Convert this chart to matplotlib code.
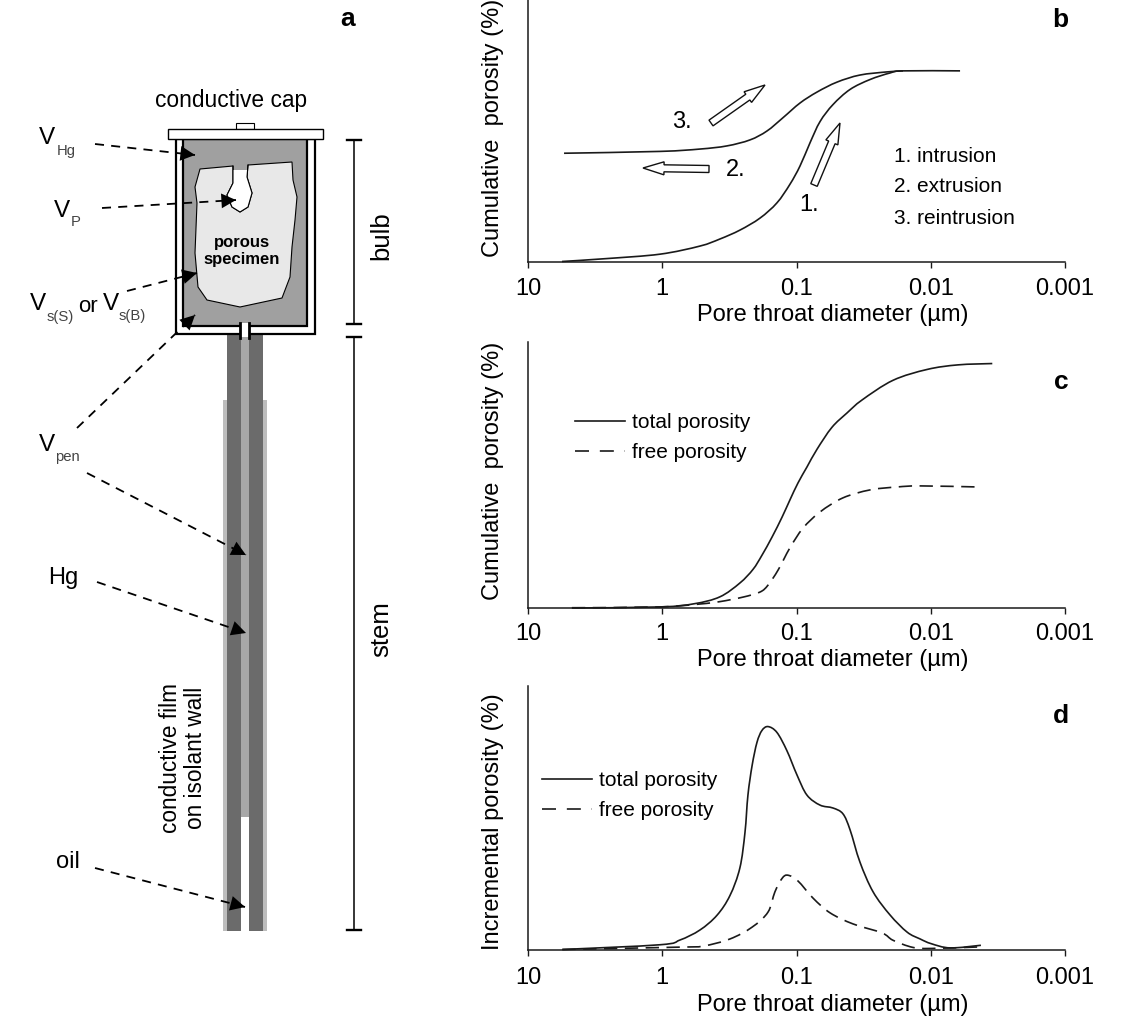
import matplotlib
matplotlib.use("Agg")
import numpy as np
import matplotlib.pyplot as plt
from matplotlib.lines import Line2D
from matplotlib.patches import Rectangle, Polygon, FancyArrow, PathPatch
from matplotlib.path import Path
from matplotlib.transforms import IdentityTransform

plt.rcParams['font.family'] = ['Liberation Sans', 'DejaVu Sans']

W, H = 1128, 1024

# ---- data: pore throat diameter (um) / porosity (% of axis height) ----
b_intr_d = [5.58, 2.62, 1.04, .524, .372, .264, .187, .140, .112, .0942, .0793, .0668, .0535, .0399, .0283, .0201, .0161, .00605]
b_intr_v = [0, 1.1, 2.8, 5.9, 8.6, 12.0, 16.6, 22.4, 29.5, 36.5, 45.4, 53.5, 60, 65.8, 69.6, 72.1, 72.9, 72.9]
b_re_d = [5.39, 1.04, .524, .330, .222, .166, .126, .0942, .0703, .0499, .0337, .0212, .0161]
b_re_v = [41.4, 42.1, 43, 44.2, 46.5, 49.9, 55, 60.6, 64.8, 68.6, 71.3, 72.5, 72.9]

c_tot_d = [4.71, 1.04, .578, .372, .264, .211, .181, .152, .128, .112, .0975, .0836, .0703, .0545, .0421, .0325, .0191, .0106, .00627, .00348]
c_tot_v = [0, .4, 1.6, 4.2, 9.4, 14.5, 19.8, 26.7, 34.2, 40.6, 47, 53, 59.7, 67.9, 73.3, 78.2, 85.6, 89.7, 91.4, 91.9]
c_free_d = [4.71, 1.04, .524, .372, .250, .187, .163, .137, .112, .0895, .0668, .0451, .0283, .0178, .0120, .00445]
c_free_v = [.1, .4, 1.5, 2.4, 4.1, 6, 8.6, 14.3, 22.6, 30, 36.1, 41.4, 44.4, 45.5, 45.9, 45.5]

d_tot_d = [5.55, 1.04, .738, .524, .391, .313, .264, .242, .230, .214, .197, .181, .163, .140, .118, .0991, .0836, .0668, .0535, .0451, .0399, .0337, .0269, .0201, .0150, .0120, .00991, .00715, .00423]
d_tot_v = [0, 1.8, 3.6, 7.4, 13, 20.5, 31, 44.4, 58.6, 69.9, 78.6, 83.1, 84.6, 82.4, 75.5, 66.2, 58.6, 54.8, 53.7, 51.5, 45.4, 33.2, 21.9, 13.1, 6.6, 4, 2.2, .6, 1.6]
d_free_d = [5.55, .738, .497, .313, .214, .163, .145, .128, .116, .0975, .0753, .0562, .0379, .0231, .0191, .0136, .00991, .00423]
d_free_v = [0, .9, 1.3, 4, 8.5, 14.2, 21.8, 27, 28.2, 26, 19.5, 13.9, 9.7, 6.3, 3.5, .8, .4, 1]

x_ticks = [10, 1, 0.1, 0.01, 0.001]
x_tick_labels = ['10', '1', '0.1', '0.01', '0.001']
x_label = 'Pore throat diameter (µm)'
legend_labels = ['total porosity', 'free porosity']

INK = '#1a1a1a'
DASH = (0, (8, 4.5))
LW = 1.2

fig = plt.figure(figsize=(W / 100, H / 100), dpi=100, facecolor='white')


def panel(top, bottom, ylabel, y_center, tick_pad, label_off):
    ax = fig.add_axes([528 / W, 1 - bottom / H, (1065 - 528) / W, (bottom - top) / H])
    ax.set_xscale('log')
    ax.set_xlim(10, 0.001)
    ax.set_ylim(0, 100)
    ax.set_xticks(x_ticks)
    ax.set_xticklabels(x_tick_labels, fontsize=17)
    ax.minorticks_off()
    ax.set_yticks([])
    ax.tick_params(axis='x', length=4, width=1, pad=tick_pad, color=INK)
    for s in ('top', 'right'):
        ax.spines[s].set_visible(False)
    for s in ('left', 'bottom'):
        ax.spines[s].set_linewidth(1.1)
        ax.spines[s].set_color(INK)
    ax.set_xlabel(x_label, fontsize=17, va='center')
    ax.xaxis.set_label_coords((832.5 - 528) / 537, -label_off / (bottom - top))
    fig.text(492.5 / W, 1 - y_center / H, ylabel, rotation=90, fontsize=17, ha='center', va='center')
    ax.patch.set_alpha(0)
    return ax


def curve(ax, xs, ys, **kw):
    """Draw the read values as a smoothed chart line: the curve passes through each value."""
    lx, y = np.log10(xs), np.asarray(ys, float)
    p = np.column_stack([lx, y])
    prev = np.vstack([p[0], p[:-1]])
    nxt = np.vstack([p[1:], p[-1]])
    c1 = p[:-1] + (nxt[:-1] - prev[:-1]) / 6
    c2 = p[1:] - (nxt[1:] - prev[1:]) / 6
    verts, codes = [p[0]], [Path.MOVETO]
    for a, b, e in zip(c1, c2, p[1:]):
        verts += [a, b, e]
        codes += [Path.CURVE4] * 3
    v = np.array(verts)
    v[:, 0] = 10 ** v[:, 0]
    ax.add_patch(PathPatch(Path(v, codes), fc='none', ec=INK, lw=LW, clip_on=False, capstyle='butt', **kw))


axb = panel(0, 261.5, 'Cumulative  porosity (%)', 127.5, 8, 54)
axc = panel(342, 608, 'Cumulative  porosity (%)', 471, 7, 52)
axd = panel(686, 949.5, 'Incremental porosity (%)', 822, 8.5, 55)

curve(axb, b_intr_d, b_intr_v)
curve(axb, b_re_d, b_re_v)
curve(axc, c_tot_d, c_tot_v)
curve(axc, c_free_d, c_free_v, ls=DASH)
curve(axd, d_tot_d, d_tot_v)
curve(axd, d_free_d, d_free_v, ls=DASH)

handles = [Line2D([], [], color=INK, lw=LW), Line2D([], [], color=INK, lw=LW, ls=(0, (8.4, 6.5)))]
for ax, anchor in ((axc, (575, 413)), (axd, (542, 771))):
    ax.legend(handles, legend_labels, loc='upper left', bbox_to_anchor=(anchor[0], H - anchor[1]),
              bbox_transform=IdentityTransform(), frameon=False,
              fontsize=15, handlelength=2.4, handletextpad=0.33, labelspacing=0.52,
              borderpad=0, borderaxespad=0)

# ---- overlay in pixel coordinates: schematic and annotations ----
ov = fig.add_axes([0, 0, 1, 1], zorder=5)
ov.set_xlim(0, W)
ov.set_ylim(H, 0)
ov.axis('off')
ov.patch.set_alpha(0)


def rect(x0, y0, x1, y1, fc, ec='none', lw=0, z=1):
    ov.add_patch(Rectangle((x0, y0), x1 - x0, y1 - y0, fc=fc, ec=ec, lw=lw, zorder=z))


def txt(x, y, s, size=16.5, **kw):
    kw.setdefault('ha', 'center')
    kw.setdefault('va', 'center')
    ov.text(x, y, s, fontsize=size, zorder=10, **kw)


# stem
rect(223, 400, 267, 931, '#bdbdbd', z=1)
rect(227, 334, 241, 931, '#6b6b6b', z=2)
rect(249, 334, 263, 931, '#6b6b6b', z=2)
rect(241, 334, 249, 817, '#a8a8a8', z=2)
rect(241, 817, 249, 931, 'white', z=2)

# bulb
rect(236, 123, 254, 129, 'white', 'black', 0.8, z=3)
rect(176, 139, 315, 334, 'white', 'black', 1.6, z=3)
rect(183, 139, 307, 326, '#a0a0a0', 'black', 1.6, z=4)
rect(168, 129, 323, 139, 'white', 'black', 1.0, z=5)
rect(241, 323, 249, 337, 'white', z=6)
ov.plot([240, 240], [323, 338], color='black', lw=2, zorder=6)
ov.plot([249, 249], [323, 338], color='black', lw=2, zorder=6)

# specimen
specimen_x = [200, 233, 233, 227, 232, 240, 248, 252, 247, 248, 292, 293, 297, 295, 292, 290, 282, 240, 207, 198, 195, 197, 195, 200]
specimen_y = [169, 166, 183, 195, 207, 212, 207, 193, 177, 165, 162, 180, 197, 220, 247, 277, 298, 307, 300, 287, 253, 203, 187, 169]
ov.add_patch(Polygon(list(zip(specimen_x, specimen_y)), closed=True, fc='#e8e8e8', ec='black', lw=0.8, zorder=6))
pore_x = [233, 233, 227, 232, 240, 248, 252, 247, 247]
pore_y = [170, 183, 195, 207, 212, 207, 193, 177, 170]
ov.add_patch(Polygon(list(zip(pore_x, pore_y)), closed=True, fc='white', ec='none', zorder=6))
ov.plot([233, 233, 227, 232, 240, 248, 252, 247, 248], [166, 183, 195, 207, 212, 207, 193, 177, 165],
        color='black', lw=0.8, zorder=7)
ov.text(242, 251, 'porous\nspecimen', fontsize=12, fontweight='bold', ha='center', va='center',
        linespacing=1.2, zorder=10)

# dimension lines
for y0, y1 in ((140, 324), (337, 930)):
    ov.plot([354, 354], [y0, y1], color='black', lw=1.1, zorder=3)
    ov.plot([347, 361], [y0, y0], color='black', lw=1.7, zorder=3)
    ov.plot([347, 361], [y1, y1], color='black', lw=1.7, zorder=3)


# dashed leaders with solid heads
def leader(x0, y0, x1, y1):
    ov.plot([x0, x1], [y0, y1], color='black', lw=1.3, ls=(0, (5, 4)), zorder=8)
    f = 0.9 if abs(x1 - x0) > 60 else 0.8
    ov.annotate('', xy=(x1, y1), xytext=(x0 + (x1 - x0) * f, y0 + (y1 - y0) * f),
                arrowprops=dict(arrowstyle='-|>,head_length=0.75,head_width=0.38', color='black', lw=0,
                                shrinkA=0, shrinkB=0, mutation_scale=14), zorder=9)


leader(95, 144, 195, 155)
leader(102, 208, 236, 200)
leader(127, 291, 197, 273)
leader(77, 428, 195, 315)
leader(87, 473, 246, 555)
leader(97, 582, 246, 633)
leader(95, 868, 245, 907)

# schematic labels
txt(231, 101, 'conductive cap', 16.4)
txt(381, 236, 'bulb', 18.5, rotation=90)
txt(381, 629, 'stem', 18.5, rotation=90)
ov.text(183, 758, 'conductive film\non isolant wall', fontsize=16.3, rotation=90, ha='center', va='center',
        linespacing=1.1, zorder=10)
sub = dict(color='#444444')
txt(47, 138, 'V', 17.5)
txt(66, 151, 'Hg', 10.7, **sub)
txt(62, 211, 'V', 17.5)
txt(76, 222, 'P', 10.7, **sub)
txt(38, 304, 'V', 17.5)
txt(60, 317, 's(S)', 10.7, **sub)
txt(88, 307, 'or', 16)
txt(111, 304, 'V', 17.5)
txt(132, 316, 's(B)', 10.7, **sub)
txt(47, 445, 'V', 17.5)
txt(67, 457, 'pen', 10.7, **sub)
txt(63, 578, 'Hg', 17)
txt(68, 862, 'oil', 17)

# panel letters
for x, y, s in ((348, 19, 'a'), (1060, 20, 'b'), (1061, 382, 'c'), (1061, 716, 'd')):
    txt(x, y, s, 19, fontweight='bold')

# panel b annotations
txt(682, 122, '3.', 17)
txt(736, 170, '2.', 17)
txt(809, 205, '1.', 17)
for y, s in ((157, '1. intrusion'), (187, '2. extrusion'), (218, '3. reintrusion')):
    txt(894, y, s, 15, ha='left')
for x0, y0, x1, y1 in ((711, 123, 765, 85), (709, 169, 643, 168), (814, 185, 840, 123)):
    ov.add_patch(FancyArrow(x0, y0, x1 - x0, y1 - y0, width=7, head_width=13, head_length=21,
                            length_includes_head=True, fc='white', ec='#111111', lw=1.0, zorder=8))

fig.savefig('out.png', dpi=100)
